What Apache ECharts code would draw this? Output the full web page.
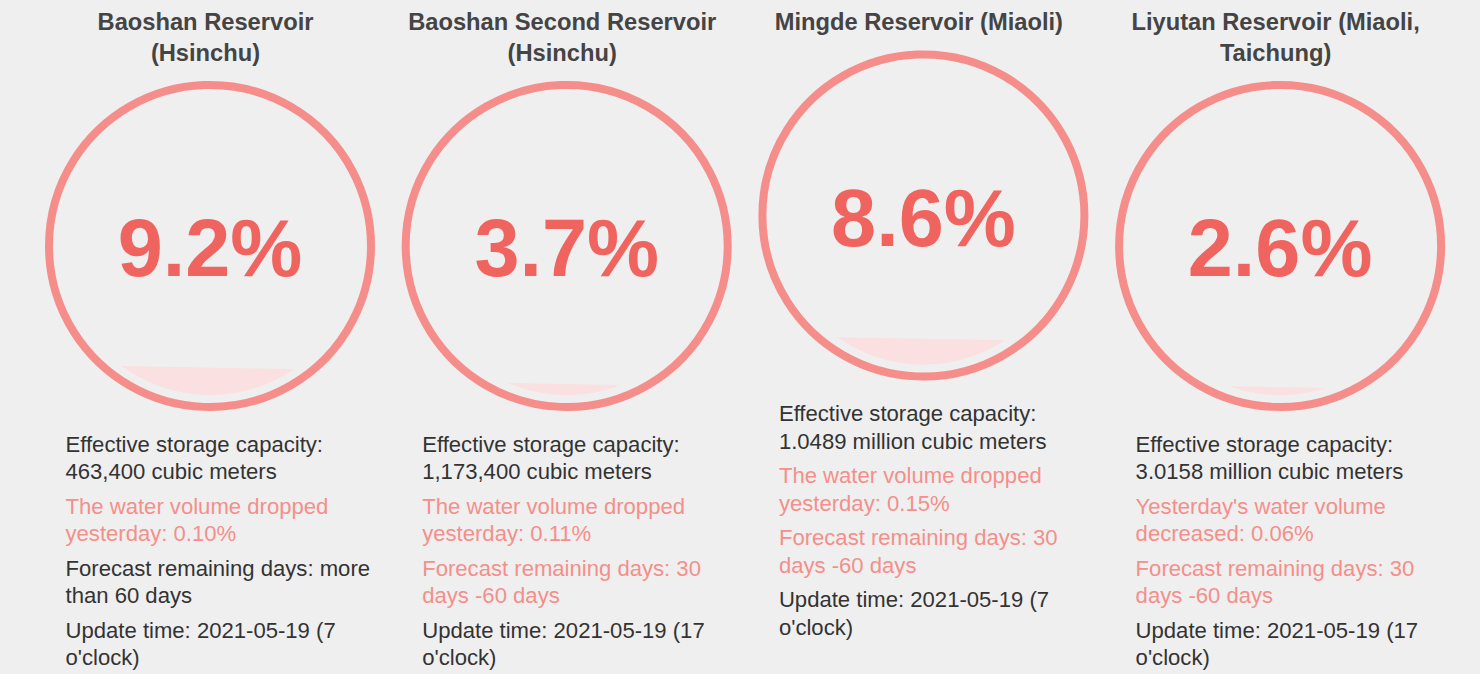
<!DOCTYPE html>
<html>
<head>
<meta charset="utf-8">
<script src="https://cdn.jsdelivr.net/npm/echarts@6/dist/echarts.min.js"></script>
<style>
html,body{margin:0;padding:0;background:#efefef;}
#chart{width:1480px;height:674px;}
</style>
</head>
<body>
<div id="chart"></div>
<script>
// ---- data ----
const names = [
  'Baoshan Reservoir\n(Hsinchu)',
  'Baoshan Second Reservoir\n(Hsinchu)',
  'Mingde Reservoir (Miaoli)',
  'Liyutan Reservoir (Miaoli,\nTaichung)'
];
const percents = [9.2, 3.7, 8.6, 2.6];
const capacityText = [
  'Effective storage capacity:\n463,400 cubic meters',
  'Effective storage capacity:\n1,173,400 cubic meters',
  'Effective storage capacity:\n1.0489 million cubic meters',
  'Effective storage capacity:\n3.0158 million cubic meters'
];
const dropText = [
  'The water volume dropped\nyesterday: 0.10%',
  'The water volume dropped\nyesterday: 0.11%',
  'The water volume dropped\nyesterday: 0.15%',
  "Yesterday's water volume\ndecreased: 0.06%"
];
const forecastText = [
  'Forecast remaining days: more\nthan 60 days',
  'Forecast remaining days: 30\ndays -60 days',
  'Forecast remaining days: 30\ndays -60 days',
  'Forecast remaining days: 30\ndays -60 days'
];
const forecastAlert = [false, true, true, true];
const updateText = [
  "Update time: 2021-05-19 (7\no'clock)",
  "Update time: 2021-05-19 (17\no'clock)",
  "Update time: 2021-05-19 (7\no'clock)",
  "Update time: 2021-05-19 (17\no'clock)"
];

// ---- style / layout ----
const FONT = '"Liberation Sans", Arial, Helvetica, sans-serif';
const RING = '#f58e8a';
const FILL = '#fae0e0';
const PCT = '#f0645f';
const TITLE = '#444444';
const BODY = '#333333';
const ALERT = '#f48f8b';

function fillPolygon(cx, cy, R, v, tilt) {
  const level = cy + R - 2 * R * v / 100;
  const N = 240;
  const pts = [];
  for (let k = 0; k < N; k++) {
    const a = 2 * Math.PI * k / N;
    pts.push([cx + R * Math.cos(a), cy + R * Math.sin(a)]);
  }
  const f = p => p[1] - (level + tilt * (p[0] - cx));
  const out = [];
  for (let i = 0; i < pts.length; i++) {
    const S = pts[(i + pts.length - 1) % pts.length], E = pts[i];
    const fs = f(S), fe = f(E);
    const inter = () => {
      const t = fs / (fs - fe);
      return [S[0] + t * (E[0] - S[0]), S[1] + t * (E[1] - S[1])];
    };
    if (fe >= 0) {
      if (fs < 0) out.push(inter());
      out.push(E);
    } else if (fs >= 0) {
      out.push(inter());
    }
  }
  return out;
}

const chart = echarts.init(document.getElementById('chart'), null, {renderer: 'svg'});
chart.setOption({
  backgroundColor: '#efefef',
  animation: false,
  series: [{
    type: 'custom',
    coordinateSystem: 'none',
    data: percents.map(v => [v]),
    renderItem: function (params, api) {
      const i = params.dataIndex;
      const v = api.value(0);
      const lines = names[i].split('\n').length;
      const shift = (lines - 1) * 30.5;
      const cx = 210 + i * 356.7;
      const cy = 215.5 + shift;
      const tx = cx - 144.5;
      const ty = 413.5 + shift - 13.75;
      const children = [];
      children.push({
        type: 'text',
        style: {
          text: names[i], x: cx - 4.5, y: 22 - 15.5,
          fill: TITLE, fontFamily: FONT, fontSize: 23.7, fontWeight: 'bold',
          align: 'center', verticalAlign: 'top', lineHeight: 31
        }
      });
      children.push({
        type: 'polygon',
        shape: {points: fillPolygon(cx, cy, 149, v, 0.018)},
        style: {fill: FILL}
      });
      children.push({
        type: 'circle',
        shape: {cx: cx, cy: cy, r: 161},
        style: {fill: 'none', stroke: RING, lineWidth: 8}
      });
      children.push({
        type: 'text',
        style: {
          text: v.toFixed(1) + '%', x: cx, y: cy + 2,
          fill: PCT, fontFamily: FONT, fontSize: 81, fontWeight: 'bold',
          align: 'center', verticalAlign: 'middle'
        }
      });
      const paras = [
        [capacityText[i], BODY],
        [dropText[i], ALERT],
        [forecastText[i], forecastAlert[i] ? ALERT : BODY],
        [updateText[i], BODY]
      ];
      paras.forEach((p, k) => {
        children.push({
          type: 'text',
          style: {
            text: p[0], x: tx, y: ty + k * 62,
            fill: p[1], fontFamily: FONT, fontSize: 22.1,
            align: 'left', verticalAlign: 'top', lineHeight: 27.5
          }
        });
      });
      return {type: 'group', children: children};
    }
  }]
});
</script>
</body>
</html>
